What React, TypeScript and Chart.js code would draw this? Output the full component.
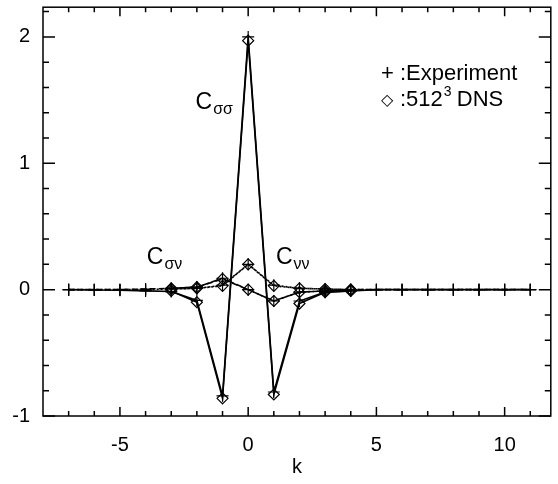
import React, { useEffect, useRef } from "react";
import { Chart, registerables } from "chart.js";

Chart.register(...registerables);

const kExp = [-7, -6, -5, -4, -3, -2, -1, 0, 1, 2, 3, 4, 5, 6, 7, 8, 9, 10, 11];
const ssExp = [0, -0.003, -0.005, -0.01, -0.015, -0.085, -0.84, 2.0, -0.81, -0.09, -0.02, -0.01, 0, 0, 0, 0, 0, 0, 0];
const svExp = [0, 0, 0, 0.005, 0.01, 0.02, 0.09, 0.0, -0.09, -0.02, -0.01, 0, 0, 0, 0, 0, 0, 0, 0];
const vvExp = [0, 0, 0, 0, 0.005, 0.01, 0.035, 0.2, 0.035, 0.01, 0.005, 0, 0, 0, 0, 0, 0, 0, 0];

const kDns = [-3, -2, -1, 0, 1, 2, 3, 4];
const ssDns = [-0.01, -0.1, -0.86, 1.97, -0.83, -0.11, -0.02, -0.01];
const svDns = [0.01, 0.02, 0.085, 0.0, -0.09, -0.02, -0.01, 0];
const vvDns = [0.005, 0.01, 0.03, 0.2, 0.03, 0.01, 0.005, 0];

const xTickLabels = [-5, 0, 5, 10];
const yTickLabels = [-1, 0, 1, 2];

const FONT = "'Liberation Sans', Arial, Helvetica, sans-serif";

const pts = (xs: number[], ys: number[]) => xs.map((x, i) => ({ x, y: ys[i] }));

export default function App() {
  const ref = useRef<HTMLCanvasElement | null>(null);
  useEffect(() => {
    document.body.style.margin = "0";
    const canvas = ref.current!;
    const solid: number[] = [];
    const dashed = [6, 3];
    const dotted = [2, 2];
    const mk = (data: any, dash: number[], style: string, r: number) => ({
      data,
      showLine: true,
      borderColor: "#000",
      borderWidth: 1.6,
      borderDash: dash,
      pointStyle: style,
      pointRadius: r,
      pointBorderWidth: 1.2,
      pointBorderColor: "#000",
      pointBackgroundColor: "rgba(0,0,0,0)",
    });

    const frame = {
      id: "frame",
      afterDraw(chart: any) {
        const { ctx, chartArea: a, scales } = chart;
        const xs = scales.x;
        const ys = scales.y;
        ctx.save();
        ctx.strokeStyle = "#000";
        ctx.lineWidth = 1.5;
        ctx.setLineDash([]);
        ctx.strokeRect(a.left, a.top, a.right - a.left, a.bottom - a.top);
        ctx.beginPath();
        for (let k = -7; k <= 11; k++) {
          const px = xs.getPixelForValue(k);
          const len = k % 5 === 0 ? 9 : 5;
          ctx.moveTo(px, a.bottom);
          ctx.lineTo(px, a.bottom - len);
          ctx.moveTo(px, a.top);
          ctx.lineTo(px, a.top + len);
        }
        for (let i = -5; i <= 11; i++) {
          const v = i / 5;
          const py = ys.getPixelForValue(v);
          const len = i % 5 === 0 ? 12 : 6;
          ctx.moveTo(a.left, py);
          ctx.lineTo(a.left + len, py);
          ctx.moveTo(a.right, py);
          ctx.lineTo(a.right - len, py);
        }
        ctx.stroke();

        ctx.fillStyle = "#000";
        ctx.textBaseline = "alphabetic";
        ctx.textAlign = "left";
        const label = (x: number, y: number, sub: string) => {
          const px = xs.getPixelForValue(x);
          const py = ys.getPixelForValue(y);
          ctx.font = `23px ${FONT}`;
          ctx.fillText("C", px, py);
          const w = ctx.measureText("C").width;
          ctx.font = `16px ${FONT}`;
          ctx.fillText(sub, px + w + 1, py + 5);
        };
        label(-2.05, 1.433, "σσ");
        label(-3.95, 0.205, "σν");
        label(1.085, 0.205, "νν");

        // legend
        const lx = 381;
        ctx.font = `22px ${FONT}`;
        ctx.fillText("+", lx, 80);
        ctx.fillText(":Experiment", lx + 19, 80);
        ctx.font = `16px ${FONT}`;
        ctx.fillText("◇", lx, 105);
        ctx.font = `22px ${FONT}`;
        ctx.fillText(":512", lx + 19, 106);
        const w512 = ctx.measureText(":512").width;
        ctx.font = `14px ${FONT}`;
        ctx.fillText("3", lx + 19 + w512 + 1, 96);
        ctx.font = `22px ${FONT}`;
        ctx.fillText("DNS", lx + 19 + w512 + 14, 106);
        ctx.restore();
      },
    };

    const chart = new Chart(canvas, {
      type: "scatter",
      data: {
        datasets: [
          mk(pts(kExp, ssExp), solid, "cross", 6),
          mk(pts(kDns, ssDns), solid, "rectRot", 5.5),
          mk(pts(kExp, svExp), dashed, "cross", 6),
          mk(pts(kDns, svDns), dashed, "rectRot", 5.5),
          mk(pts(kExp, vvExp), dotted, "cross", 6),
          mk(pts(kDns, vvDns), dotted, "rectRot", 5.5),
        ] as any,
      },
      options: {
        animation: false,
        responsive: false,
        layout: { padding: { top: 5, right: 5, left: 0, bottom: 0 } },
        plugins: { legend: { display: false }, tooltip: { enabled: false } },
        scales: {
          x: {
            type: "linear",
            min: -8,
            max: 11.8,
            grid: { display: false, drawTicks: false },
            border: { display: false },
            afterBuildTicks: (s: any) => {
              s.ticks = xTickLabels.map((v) => ({ value: v }));
            },
            afterFit: (s: any) => {
              s.height = 68;
              s.paddingLeft = 0;
              s.paddingRight = 0;
            },
            ticks: {
              color: "#000",
              font: { family: FONT, size: 20 },
              padding: 17,
              maxRotation: 0,
            },
            title: {
              display: true,
              text: "k",
              color: "#000",
              font: { family: FONT, size: 20 },
              padding: { top: 0, bottom: 5 },
            },
          },
          y: {
            type: "linear",
            min: -1,
            max: 2.235,
            grid: { display: false, drawTicks: false },
            border: { display: false },
            afterBuildTicks: (s: any) => {
              s.ticks = yTickLabels.map((v) => ({ value: v }));
            },
            afterFit: (s: any) => {
              s.width = 43;
              s.paddingTop = 0;
              s.paddingBottom = 0;
            },
            ticks: {
              color: "#000",
              font: { family: FONT, size: 20 },
              padding: 13,
            },
          },
        },
      },
      plugins: [frame],
    });
    return () => chart.destroy();
  }, []);
  return <canvas ref={ref} width={558} height={484} style={{ display: "block" }} />;
}
